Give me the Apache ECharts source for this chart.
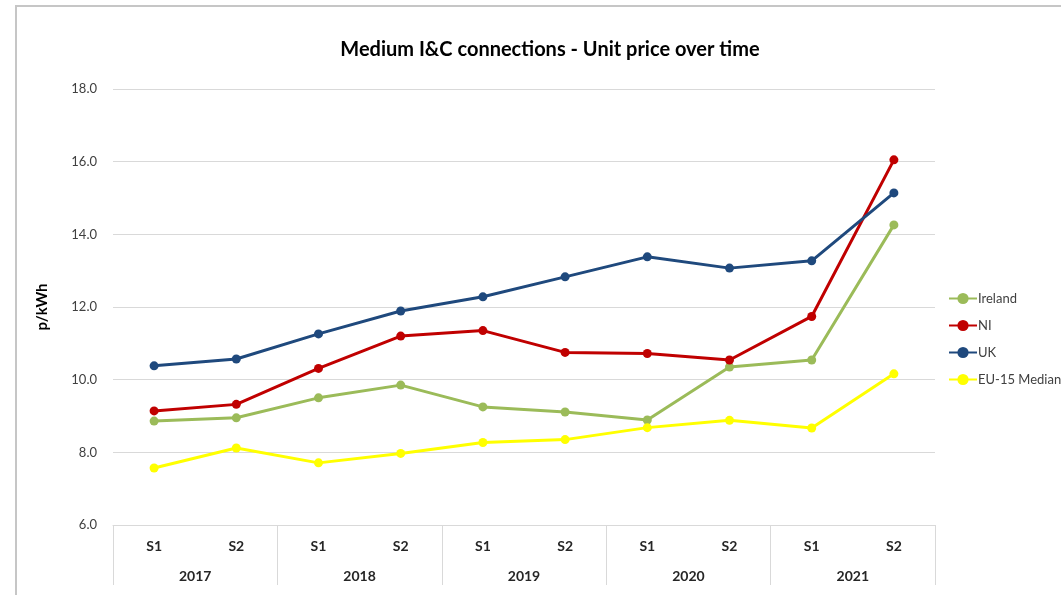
<!DOCTYPE html>
<html>
<head>
<meta charset="utf-8">
<script src="https://cdn.jsdelivr.net/npm/echarts@6/dist/echarts.min.js"></script>
<style>html,body{margin:0;padding:0;background:#fff}#c{width:1061px;height:595px}</style>
</head>
<body>
<div id="c"></div>
<script>
var halves = ['S1','S2','S1','S2','S1','S2','S1','S2','S1','S2'];
var years = ['2017','2018','2019','2020','2021'];
var ireland = [8.86, 8.95, 9.50, 9.85, 9.25, 9.11, 8.89, 10.35, 10.54, 14.26];
var ni = [9.14, 9.32, 10.31, 11.20, 11.35, 10.75, 10.72, 10.54, 11.74, 16.05];
var uk = [10.38, 10.57, 11.26, 11.89, 12.28, 12.83, 13.38, 13.07, 13.27, 15.14];
var eu15 = [7.57, 8.12, 7.71, 7.97, 8.27, 8.35, 8.68, 8.88, 8.67, 10.16];
var yTicks = [6, 8, 10, 12, 14, 16, 18];

var FONT = 'Lato, "Open Sans", sans-serif';
function mk(name, data, color) {
  return {
    name: name, type: 'line', data: data, xAxisIndex: 0,
    symbol: 'circle', symbolSize: 9,
    lineStyle: { width: 3, color: color },
    itemStyle: { color: color },
    emphasis: { disabled: true }
  };
}
var chart = echarts.init(document.getElementById('c'), null, { renderer: 'canvas' });
chart.setOption({
  animation: false,
  backgroundColor: '#ffffff',
  textStyle: { fontFamily: FONT },
  title: {
    text: 'Medium I&C connections - Unit price over time',
    left: 545, top: 35, textAlign: 'center',
    textStyle: { fontFamily: FONT, fontSize: 20, fontWeight: 'bold', color: '#000' }
  },
  graphic: [{
    type: 'polyline', silent: true,
    shape: { points: [[16, 600], [16, 6], [1070, 6]] },
    style: { stroke: '#c6c6c6', lineWidth: 2, fill: null }
  }],
  legend: {
    orient: 'vertical', left: 943, top: 287,
    itemWidth: 28, itemHeight: 14, itemGap: 14,
    textStyle: { fontFamily: FONT, fontSize: 13, color: '#404040', padding: [0,0,0,-4] },
    data: ['Ireland', 'NI', 'UK', 'EU-15 Median']
  },
  grid: { left: 113, right: 126, top: 89, bottom: 70, containLabel: false },
  xAxis: [{
    type: 'category', data: halves, position: 'bottom',
    axisLine: { show: true, lineStyle: { color: '#d9d9d9', width: 1 } },
    axisTick: { show: false },
    axisLabel: { margin: 14, fontFamily: FONT, fontSize: 14, fontWeight: 'bold', color: '#262626' },
    splitLine: { show: false }
  }, {
    type: 'category', data: years, position: 'bottom', gridIndex: 0,
    axisLine: { show: false },
    axisTick: { show: true, length: 60, inside: false, lineStyle: { color: '#d9d9d9', width: 1 } },
    axisLabel: { margin: 44, fontFamily: FONT, fontSize: 14, fontWeight: 'bold', color: '#262626' },
    splitLine: { show: false }
  }],
  yAxis: {
    type: 'value', min: yTicks[0], max: yTicks[yTicks.length - 1], interval: 2,
    name: 'p/kWh', nameLocation: 'middle', nameGap: 63,
    nameTextStyle: { fontFamily: FONT, fontSize: 15, fontWeight: 'bold', color: '#000' },
    axisLine: { show: false }, axisTick: { show: false },
    axisLabel: { margin: 16, fontFamily: FONT, fontSize: 13, color: '#404040',
      formatter: function (v) { return v.toFixed(1); } },
    splitLine: { lineStyle: { color: '#d9d9d9', width: 1 } }
  },
  series: [
    mk('Ireland', ireland, '#9BBB59'),
    mk('NI', ni, '#C00000'),
    mk('UK', uk, '#1F497D'),
    mk('EU-15 Median', eu15, '#FFFF00')
  ]
});
</script>
</body>
</html>
